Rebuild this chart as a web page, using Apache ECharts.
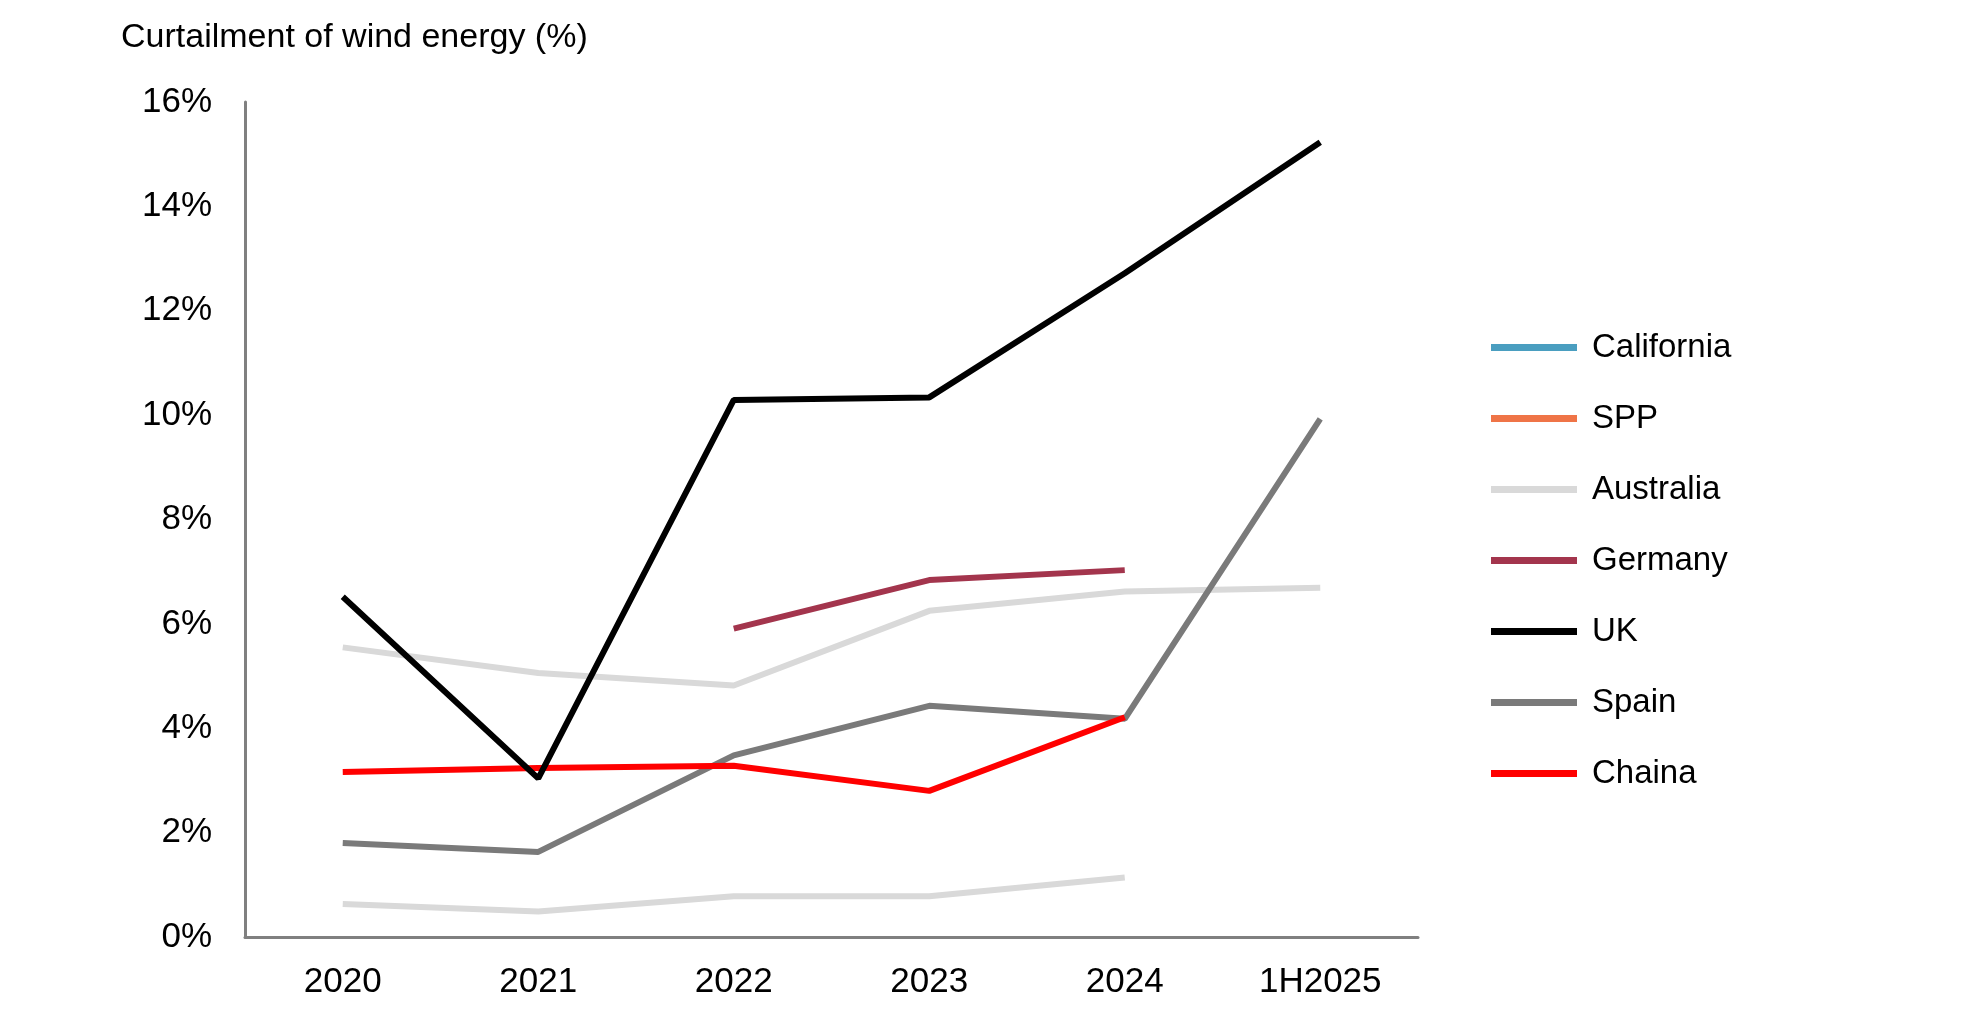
<!DOCTYPE html>
<html>
<head>
<meta charset="utf-8">
<script src="https://cdn.jsdelivr.net/npm/echarts@6/dist/echarts.min.js"></script>
<style>html,body{margin:0;padding:0;background:#fff}#main{width:1980px;height:1009px}</style>
</head>
<body>
<div id="main"></div>
<script>
// 类别与数据
var categories = ['2020', '2021', '2022', '2023', '2024', '1H2025'];
var california = [];
var spp = [];
var australia = [5.55, 5.06, 4.82, 6.25, 6.62, 6.69];
var australiaLow = [0.63, 0.49, 0.78, 0.78, 1.14, null];
var germany = [null, null, 5.91, 6.84, 7.03, null];
var uk = [6.52, 3.04, 10.29, 10.34, 12.72, 15.23];
var spain = [1.80, 1.63, 3.48, 4.43, 4.18, 9.93];
var china = [3.16, 3.24, 3.28, 2.80, 4.21, null];

var font = '"Liberation Sans Narrow", "Liberation Sans", sans-serif';

function line(name, data, color, z) {
  return {
    name: name, type: 'line', data: data, symbol: 'none', z: z || 2,
    lineStyle: { color: color, width: 6 }, itemStyle: { color: color }
  };
}

var myChart = echarts.init(document.getElementById('main'));
var option = {
  animation: false,
  title: {
    text: 'Curtailment of wind energy (%)', left: 116, top: 16,
    textStyle: { fontFamily: font, fontWeight: 'normal', fontSize: 34, color: '#000' }
  },
  legend: {
    orient: 'vertical', left: 1486, top: 326, itemGap: 38,
    icon: 'rect', itemWidth: 86, itemHeight: 7,
    data: ['California', 'SPP', 'Australia', 'Germany', 'UK', 'Spain', 'Chaina'],
    textStyle: { fontFamily: font, fontSize: 33, color: '#000', padding: [0, 0, 0, 10] }
  },
  grid: { left: 245, right: 562, top: 102, bottom: 72 },
  xAxis: {
    type: 'category', data: categories, boundaryGap: true,
    axisLine: { lineStyle: { color: '#808080', width: 3 } },
    axisTick: { show: false },
    axisLabel: { fontFamily: font, fontSize: 35, color: '#000', margin: 28 }
  },
  yAxis: {
    type: 'value', min: 0, max: 16, interval: 2,
    axisLine: { show: true, lineStyle: { color: '#808080', width: 3 } },
    axisTick: { show: false },
    splitLine: { show: false },
    axisLabel: { fontFamily: font, fontSize: 35, color: '#000', margin: 33, formatter: '{value}%' }
  },
  series: [
    line('California', california, '#4a9ec0'),
    line('SPP', spp, '#ef7447'),
    line('Australia', australia, '#d9d9d9'),
    line('Australia', australiaLow, '#d9d9d9'),
    line('Germany', germany, '#a3354d', 3),
    line('UK', uk, '#000000', 5),
    line('Spain', spain, '#7a7a7a', 3),
    line('Chaina', china, '#ff0000', 4)
  ]
};
myChart.setOption(option);
</script>
</body>
</html>
